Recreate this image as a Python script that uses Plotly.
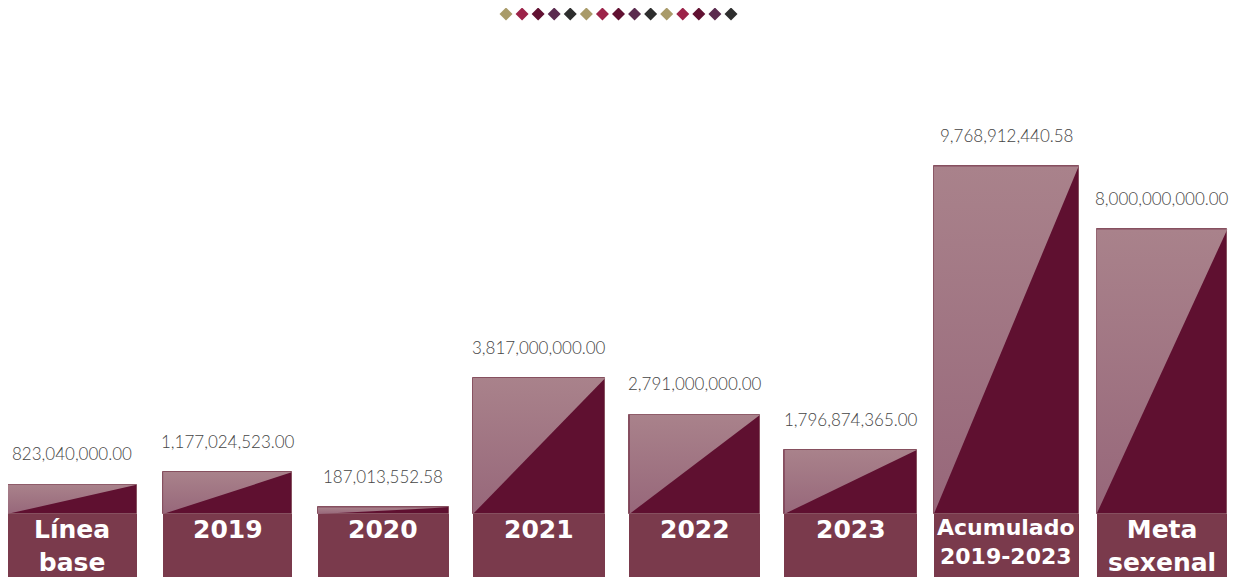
import plotly.graph_objects as go

categories = ["Línea<br>base", "2019", "2020", "2021", "2022", "2023", "Acumulado<br>2019-2023", "Meta<br>sexenal"]
values = [823040000.00, 1177024523.00, 187013552.58, 3817000000.00, 2791000000.00, 1796874365.00, 9768912440.58, 8000000000.00]
value_labels = ["823,040,000.00", "1,177,024,523.00", "187,013,552.58", "3,817,000,000.00",
                "2,791,000,000.00", "1,796,874,365.00", "9,768,912,440.58", "8,000,000,000.00"]
label_sizes = [25, 25, 25, 25, 25, 25, 22, 25]
bar_widths = [0.83, 0.83, 0.84, 0.85, 0.84, 0.85, 0.93, 0.84]

diamond_colors = ["#a99b69", "#9c2349", "#611132", "#5b2b4f", "#2e2e2e"] * 3

DARK = "#5f1030"
BOX = "#7a3a4c"

W, H = 1239, 577
OFF = 8  # page offset of the plot div (body margin)
PX_PER_UNIT = 35.6e-9   # pixels per value unit
PX_PER_CAT = 155.71      # pixels between bar centres
BASE_PX = 514            # screen pixel of the value 0
X0_PX = 72               # screen pixel of first bar centre

y_top = (BASE_PX - OFF) / PX_PER_UNIT
y_bot = -(H + OFF - BASE_PX) / PX_PER_UNIT
box_depth = -y_bot
x_left = -(X0_PX - OFF) / PX_PER_CAT
x_right = x_left + W / PX_PER_CAT

fig = go.Figure()
xs = list(range(len(values)))

# dark bars
fig.add_trace(go.Bar(x=xs, y=values, width=bar_widths,
                     marker=dict(color=DARK, line=dict(width=1, color="#86505f")),
                     hoverinfo="skip", showlegend=False))
# label boxes
fig.add_trace(go.Bar(x=xs, y=[box_depth] * len(values), base=[y_bot] * len(values), width=bar_widths,
                     marker=dict(color=BOX, line=dict(width=0)), hoverinfo="skip", showlegend=False))

# light triangles
for i, v in enumerate(values):
    w = bar_widths[i] / 2
    fig.add_trace(go.Scatter(
        x=[i - w, i - w, i + w, i - w], y=[0, v, v, 0], mode="lines", fill="toself",
        line=dict(width=0), hoverinfo="skip", showlegend=False,
        fillgradient=dict(type="vertical", colorscale=[[0, "#97677a"], [1, "#a9828b"]]),
    ))

annotations = []
for i, v in enumerate(values):
    annotations.append(dict(x=i, y=v, yanchor="middle", yshift=31, text=value_labels[i], showarrow=False,
                            font=dict(family="Lato", size=17, weight=300, color="#454545")))
for i, c in enumerate(categories):
    annotations.append(dict(x=i, y=0, yref="y", yanchor="top", yshift=1, text=f"<b>{c}</b>",
                            showarrow=False, font=dict(family="DejaVu Sans", size=label_sizes[i], color="white"),
                            align="center"))

# decorative diamonds
dx = list(range(len(diamond_colors)))
fig.add_trace(go.Scatter(x=dx, y=[0] * len(dx), mode="markers", xaxis="x2", yaxis="y2", cliponaxis=False,
                         marker=dict(symbol="diamond", size=10, color=diamond_colors, line=dict(width=0)),
                         hoverinfo="skip", showlegend=False))

D_X0, D_STEP, D_Y = 506, 16.07, 14
fig.update_layout(
    width=W, height=H, margin=dict(l=0, r=0, t=0, b=0),
    paper_bgcolor="white", plot_bgcolor="white", barmode="overlay", bargap=0,
    xaxis=dict(range=[x_left, x_right], visible=False, fixedrange=True),
    yaxis=dict(range=[y_bot, y_top], visible=False, fixedrange=True),
    xaxis2=dict(range=[-(D_X0 - OFF) / D_STEP, (W + OFF - D_X0) / D_STEP], visible=False, overlaying="x"),
    yaxis2=dict(range=[-(H - D_Y + OFF), D_Y - OFF], visible=False, overlaying="y"),
    annotations=annotations,
    showlegend=False,
)

fig.write_html("out.html")
